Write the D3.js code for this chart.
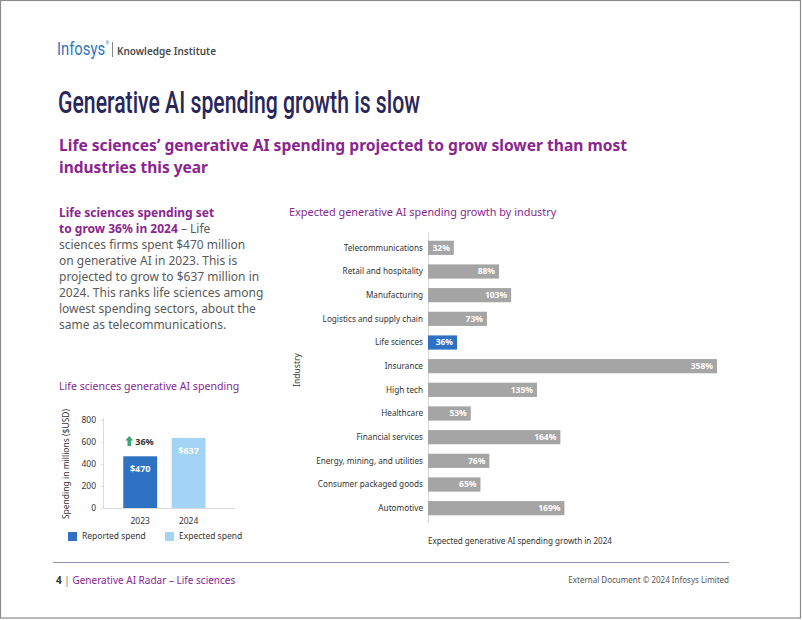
<!DOCTYPE html>
<html>
<head>
<meta charset="utf-8">
<script src="https://cdn.jsdelivr.net/npm/d3@7"></script>
<style>
html,body{margin:0;padding:0;background:#fff;}
svg{display:block;}
</style>
</head>
<body>
<script>
// ---------- DATA ----------
const industries = ["Telecommunications","Retail and hospitality","Manufacturing","Logistics and supply chain","Life sciences","Insurance","High tech","Healthcare","Financial services","Energy, mining, and utilities","Consumer packaged goods","Automotive"];
const growth = [32,88,103,73,36,358,135,53,164,76,65,169];
const highlight = "Life sciences";

const years = ["2023","2024"];
const spend = [470,637];
const spendSeries = ["Reported spend","Expected spend"];
const spendTicks = [0,200,400,600,800];
const growthLabel = "36%";

const W = 802, H = 620;
const purple = "#8a2590";
const svg = d3.select("body").append("svg").attr("width",W).attr("height",H);
const sans = "'Noto Sans', 'Open Sans', sans-serif";

// page border
svg.append("rect").attr("x",0.5).attr("y",0.5).attr("width",W-2).attr("height",H-2.5)
  .attr("fill","none").attr("stroke","#8a8a8a").attr("stroke-width",1.2);

// ---------- HEADER ----------
const logo = svg.append("text").attr("transform","translate(57,55) scale(0.78,1)")
  .attr("font-family","Roboto, sans-serif").attr("font-size",19).attr("fill","#2e74c0");
logo.append("tspan").text("Infosys");
logo.append("tspan").text("®").attr("font-size",5).attr("dy",-10).attr("dx",1);
svg.append("line").attr("x1",112.5).attr("x2",112.5).attr("y1",42).attr("y2",57).attr("stroke","#888").attr("stroke-width",1);
svg.append("text").attr("x",117).attr("y",55).text("Knowledge Institute")
  .attr("font-family",sans).attr("font-size",11).attr("font-weight",600).attr("fill","#4a4a4a")
  .attr("textLength",99).attr("lengthAdjust","spacingAndGlyphs");

svg.append("text").attr("x",58).attr("y",113).text("Generative AI spending growth is slow")
  .attr("font-family","Roboto, sans-serif").attr("font-weight",500)
  .attr("font-size",31).attr("fill","#29275a").attr("textLength",362).attr("lengthAdjust","spacingAndGlyphs");

const sub = svg.append("g").attr("font-family",sans).attr("font-size",16.5).attr("font-weight",700).attr("fill",purple);
sub.append("text").attr("x",59).attr("y",151).text("Life sciences’ generative AI spending projected to grow slower than most")
  .attr("textLength",568).attr("lengthAdjust","spacingAndGlyphs");
sub.append("text").attr("x",59).attr("y",173).text("industries this year")
  .attr("textLength",149).attr("lengthAdjust","spacingAndGlyphs");

// ---------- LEFT TEXT ----------
const para = [
  [{t:"Life sciences spending set",b:true}],
  [{t:"to grow 36% in 2024",b:true},{t:"  – Life",b:false}],
  [{t:"sciences firms spent $470 million",b:false}],
  [{t:"on generative AI in 2023. This is",b:false}],
  [{t:"projected to grow to $637 million in",b:false}],
  [{t:"2024. This ranks life sciences among",b:false}],
  [{t:"lowest spending sectors, about the",b:false}],
  [{t:"same as telecommunications.",b:false}]
];
const pg = svg.append("g").attr("font-family",sans).attr("font-size",12);
para.forEach((line,i)=>{
  const t = pg.append("text").attr("x",59).attr("y",217+i*16);
  line.forEach(s=>{
    t.append("tspan").text(s.t).attr("font-weight",s.b?700:400).attr("fill",s.b?purple:"#5a5a5a");
  });
});

// ---------- RIGHT BAR CHART ----------
svg.append("text").attr("x",289).attr("y",216).text("Expected generative AI spending growth by industry")
  .attr("font-family",sans).attr("font-size",10.9).attr("fill",purple);

const x = d3.scaleLinear().domain([0,358]).range([428,717]);
const y = d3.scaleBand().domain(industries).range([236,520]).paddingInner(0.4).paddingOuter(0.2);
const rc = svg.append("g");
rc.append("line").attr("x1",428.5).attr("x2",428.5).attr("y1",232).attr("y2",523).attr("stroke","#d6d6d6");
rc.selectAll("rect.bar").data(industries).join("rect").attr("class","bar")
  .attr("x",x(0)).attr("y",d=>y(d)).attr("width",(d,i)=>x(growth[i])-x(0)).attr("height",y.bandwidth())
  .attr("fill",d=>d===highlight?"#2f72c4":"#a5a5a5");
rc.selectAll("text.val").data(industries).join("text").attr("class","val")
  .attr("x",(d,i)=>x(growth[i])-4).attr("y",d=>y(d)+y.bandwidth()/2).attr("dy","0.35em")
  .attr("text-anchor","end").attr("font-family",sans).attr("font-size",8.5).attr("font-weight",700)
  .attr("fill","#fff").text((d,i)=>growth[i]+"%");
rc.selectAll("text.cat").data(industries).join("text").attr("class","cat")
  .attr("x",423).attr("y",d=>y(d)+y.bandwidth()/2).attr("dy","0.35em")
  .attr("text-anchor","end").attr("font-family",sans).attr("font-size",8.2).attr("fill","#333").text(d=>d);
svg.append("text").attr("transform","translate(300,370) rotate(-90)").attr("text-anchor","middle")
  .attr("font-family",sans).attr("font-size",8.5).attr("fill","#333").text("Industry");
svg.append("text").attr("x",428).attr("y",544).text("Expected generative AI spending growth in 2024")
  .attr("font-family",sans).attr("font-size",8.1).attr("fill","#333");

// ---------- LEFT SMALL CHART ----------
svg.append("text").attr("x",59).attr("y",390).text("Life sciences generative AI spending")
  .attr("font-family",sans).attr("font-size",10.6).attr("fill",purple);

const ys = d3.scaleLinear().domain([0,800]).range([508,420]);
const xs = d3.scaleBand().domain(years).range([116,212.8]).paddingInner(0.3).paddingOuter(0.15);
const sc = svg.append("g");
sc.append("line").attr("x1",103.5).attr("x2",103.5).attr("y1",418).attr("y2",508).attr("stroke","#dcdcdc");
sc.append("line").attr("x1",103).attr("x2",235).attr("y1",508.5).attr("y2",508.5).attr("stroke","#dcdcdc");
const yAxis = d3.axisLeft(ys).tickValues(spendTicks).tickSize(0).tickPadding(7);
const ya = sc.append("g").attr("transform","translate(103,0)").call(yAxis);
ya.select(".domain").remove();
ya.selectAll("text").attr("font-family",sans).attr("font-size",8.5).attr("fill","#333");
sc.selectAll("line.tk").data(spendTicks).join("line").attr("class","tk")
  .attr("x1",101).attr("x2",104).attr("y1",d=>ys(d)+0.5).attr("y2",d=>ys(d)+0.5).attr("stroke","#dcdcdc");
const xAxis = d3.axisBottom(xs).tickSize(0).tickPadding(10);
const xa = sc.append("g").attr("transform","translate(0,508)").call(xAxis);
xa.select(".domain").remove();
xa.selectAll("text").attr("font-family",sans).attr("font-size",8.5).attr("fill","#333");
svg.append("text").attr("transform","translate(69,464) rotate(-90)").attr("text-anchor","middle")
  .attr("font-family",sans).attr("font-size",8.5).attr("fill","#333").text("Spending in millions ($USD)");

const spendColors = ["#2f72c4","#a3d4f5"];
sc.selectAll("rect.sb").data(years).join("rect").attr("class","sb")
  .attr("x",d=>xs(d)).attr("width",xs.bandwidth())
  .attr("y",(d,i)=>ys(spend[i])).attr("height",(d,i)=>ys(0)-ys(spend[i]))
  .attr("fill",(d,i)=>spendColors[i]);
sc.selectAll("text.sv").data(years).join("text").attr("class","sv")
  .attr("x",d=>xs(d)+xs.bandwidth()/2).attr("y",(d,i)=>ys(spend[i])+13).attr("dy","0.35em")
  .attr("text-anchor","middle").attr("font-family",sans).attr("font-size",9).attr("font-weight",700)
  .attr("fill","#fff").text((d,i)=>"$"+spend[i]);
// growth annotation
const ax = xs(years[0])+6, ayy = ys(spend[1])+4;
sc.append("path").attr("d",`M${ax},${ayy-6} L${ax+4},${ayy-1.5} L${ax+1.8},${ayy-1.5} L${ax+1.8},${ayy+4} L${ax-1.8},${ayy+4} L${ax-1.8},${ayy-1.5} L${ax-4},${ayy-1.5} Z`)
  .attr("fill","#3aa67a");
sc.append("text").attr("x",ax+6).attr("y",ayy).attr("dy","0.35em").attr("font-family",sans)
  .attr("font-size",9).attr("font-weight",700).attr("fill","#333").text(growthLabel);

// legend
const lg = svg.append("g").attr("font-family",sans).attr("font-size",8.5).attr("fill","#333");
const legX = [68,165];
spendSeries.forEach((s,i)=>{
  lg.append("rect").attr("x",legX[i]).attr("y",532).attr("width",9).attr("height",9).attr("fill",spendColors[i]);
  lg.append("text").attr("x",legX[i]+14).attr("y",536.5).attr("dy","0.35em").text(s);
});

// ---------- FOOTER ----------
svg.append("line").attr("x1",53).attr("x2",729).attr("y1",562.5).attr("y2",562.5).attr("stroke","#8e8fb5").attr("stroke-width",1);
const ft = svg.append("text").attr("x",56).attr("y",584).attr("font-family",sans).attr("font-size",10);
ft.append("tspan").text("4").attr("font-weight",700).attr("fill","#333");
ft.append("tspan").text("  |  ").attr("fill","#777");
ft.append("tspan").text("Generative AI Radar – Life sciences").attr("fill",purple);
svg.append("text").attr("x",729).attr("y",583).attr("text-anchor","end").text("External Document © 2024 Infosys Limited")
  .attr("font-family",sans).attr("font-size",8).attr("fill","#555");
</script>
</body>
</html>
